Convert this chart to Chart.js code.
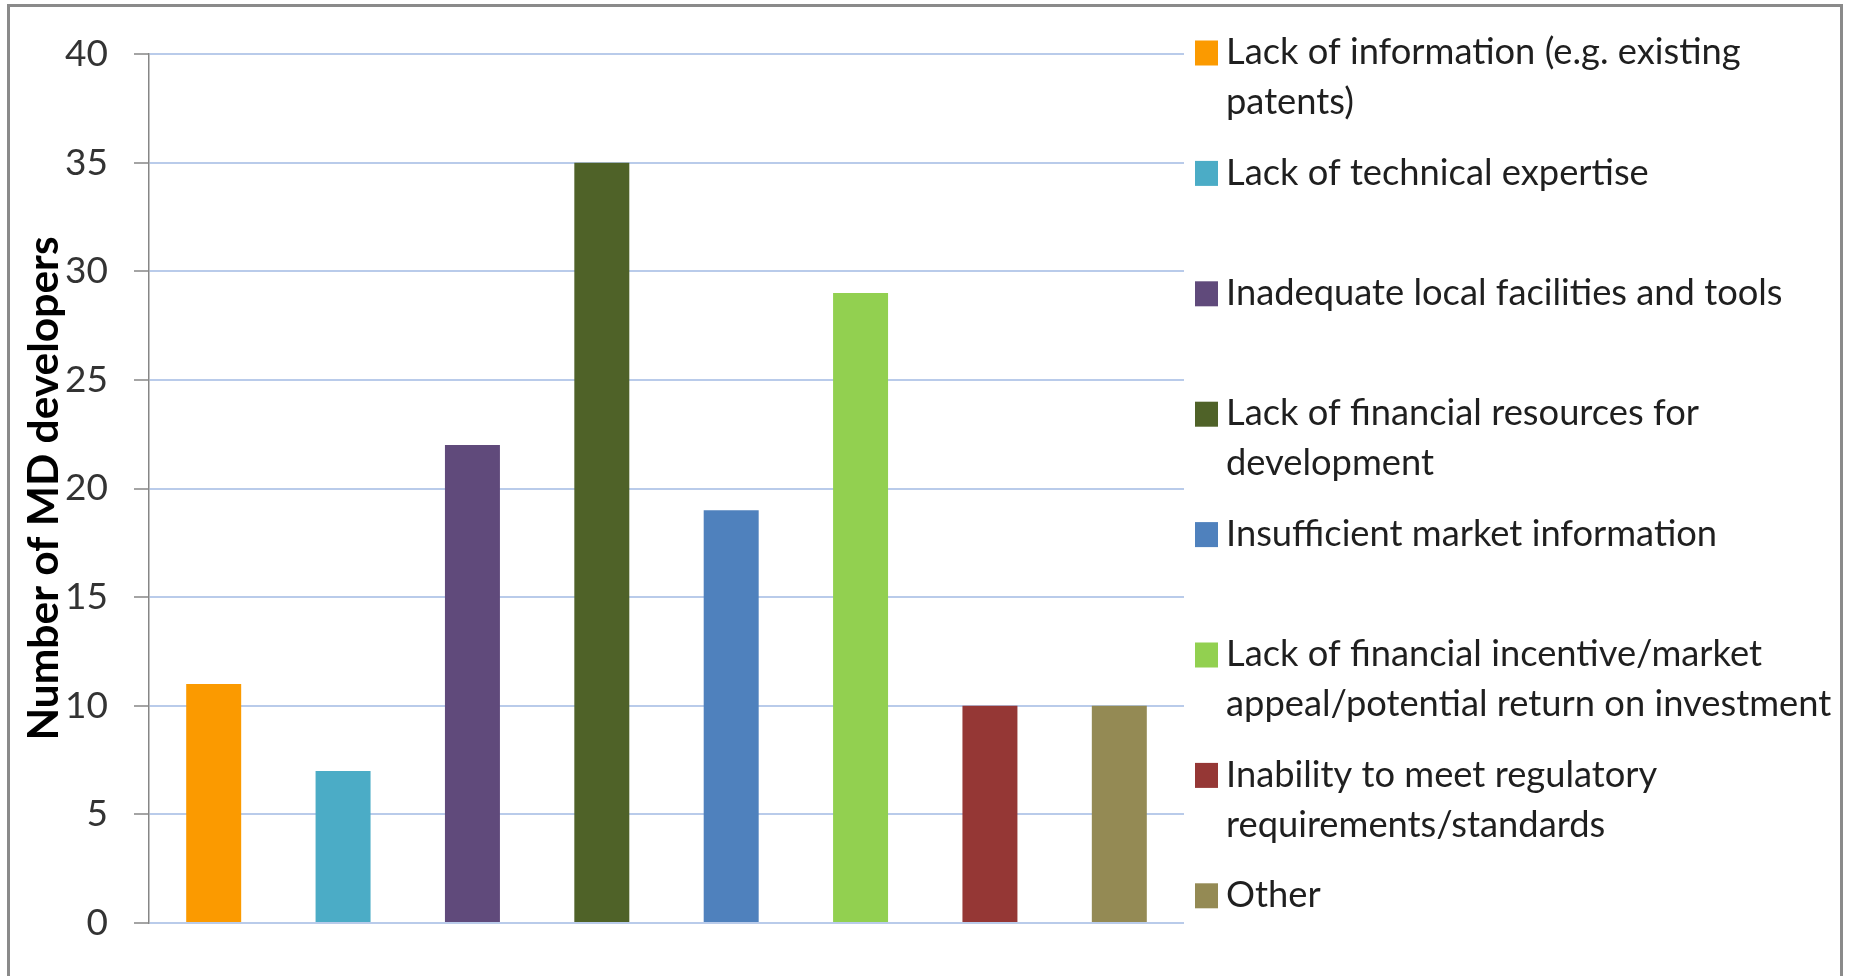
<!DOCTYPE html>
<html>
<head>
<meta charset="utf-8">
<title>Barriers for MD developers</title>
<script src="https://cdn.jsdelivr.net/npm/chart.js@4.4.1/dist/chart.umd.min.js"></script>
<style>
  html, body { margin: 0; padding: 0; background: #ffffff; overflow: hidden; }
  #chart { position: absolute; left: 0; top: 0; }
</style>
</head>
<body>
<canvas id="chart" width="1851" height="976"></canvas>
<script>
// data
const categories = [
    "Lack of information (e.g. existing patents)",
    "Lack of technical expertise",
    "Inadequate local facilities and tools",
    "Lack of financial resources for development",
    "Insufficient market information",
    "Lack of financial incentive/market appeal/potential return on investment",
    "Inability to meet regulatory requirements/standards",
    "Other"
];
const developers = [11, 7, 22, 35, 19, 29, 10, 10];
const barColors = ["#fb9a00", "#4bacc6", "#604a7b", "#4f6228", "#4f81bd", "#92d050", "#953735", "#948a54"];
const yTicks = [0, 5, 10, 15, 20, 25, 30, 35, 40];
const yTitle = "Number of MD developers";

const FONT = "Lato, 'Open Sans', sans-serif";

// legend on the right, drawn from the chart's own labels and colours
const sideLegend = {
    id: "sideLegend",
    afterDraw: function (chart) {
        const ctx = chart.ctx;
        const labels = chart.data.labels;
        const colors = chart.data.datasets[0].backgroundColor;
        const x = 1195, firstY = 52.5, pitch = 120.4, lineH = 50, maxW = 620;
        ctx.save();
        ctx.font = "36.3px " + FONT;
        ctx.textBaseline = "middle";
        ctx.textAlign = "left";
        labels.forEach(function (label, i) {
            const y = firstY + i * pitch;
            ctx.fillStyle = colors[i];
            ctx.fillRect(x, y - 12, 23, 25);
            // word wrap
            const words = label.split(" ");
            const lines = [];
            let line = "";
            words.forEach(function (w) {
                const test = line ? line + " " + w : w;
                if (ctx.measureText(test).width > maxW && line) {
                    lines.push(line);
                    line = w;
                } else {
                    line = test;
                }
            });
            lines.push(line);
            ctx.fillStyle = "#1f1f1f";
            lines.forEach(function (t, j) {
                ctx.fillText(t, x + 31, y + j * lineH);
            });
        });
        // outer frame
        ctx.strokeStyle = "#8a8a8a";
        ctx.lineWidth = 3;
        ctx.strokeRect(8.5, 5.5, 1833, 1100);
        ctx.restore();
    }
};

const ctx = document.getElementById("chart").getContext("2d");
new Chart(ctx, {
    type: "bar",
    data: {
        labels: categories,
        datasets: [{
            label: yTitle,
            data: developers,
            backgroundColor: barColors,
            borderWidth: 0,
            barPercentage: 0.425,
            categoryPercentage: 1.0
        }]
    },
    options: {
        responsive: false,
        devicePixelRatio: 1,
        animation: false,
        layout: {
            padding: { left: 0, top: 54, right: 667, bottom: 53 }
        },
        plugins: {
            legend: { display: false },
            tooltip: { enabled: false }
        },
        scales: {
            x: {
                display: false
            },
            y: {
                min: 0,
                max: 40,
                afterBuildTicks: function (scale) {
                    scale.ticks = yTicks.map(function (v) { return { value: v }; });
                },
                afterFit: function (scale) {
                    scale.width = 149;
                },
                ticks: {
                    color: "#333333",
                    padding: 26,
                    font: { family: FONT, size: 37 }
                },
                grid: {
                    color: "#b9cbea",
                    lineWidth: 2,
                    tickColor: "#868686",
                    tickLength: 15,
                    tickWidth: 1.5
                },
                border: {
                    color: "#868686",
                    width: 1.5
                },
                title: {
                    display: true,
                    text: yTitle,
                    color: "#000000",
                    padding: { top: 19, bottom: 0 },
                    font: { family: FONT, size: 42.5, weight: "bold" }
                }
            }
        }
    },
    plugins: [sideLegend]
});
</script>
</body>
</html>
